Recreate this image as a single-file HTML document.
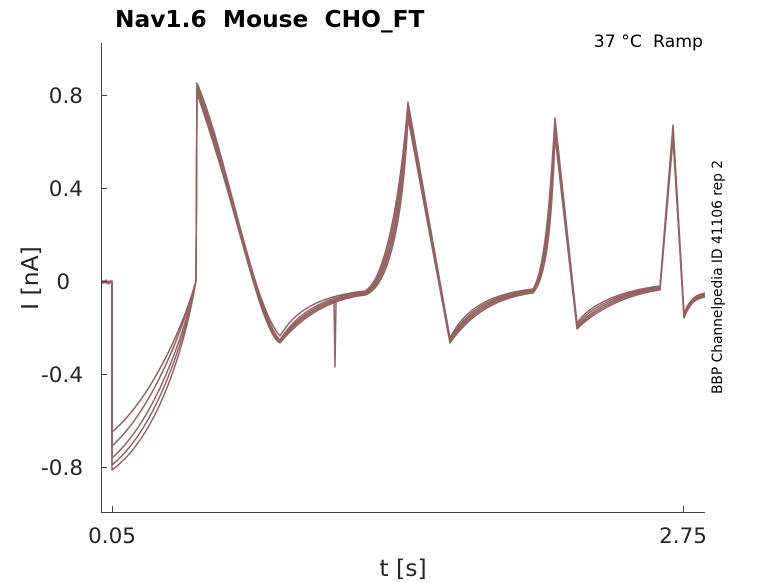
<!DOCTYPE html>
<html><head><meta charset="utf-8"><style>
body{margin:0;background:#fff;}
svg{display:block;font-family:"DejaVu Sans","Liberation Sans",sans-serif;}
</style></head><body>
<svg width="778" height="583" viewBox="0 0 778 583" xmlns="http://www.w3.org/2000/svg">
<rect width="778" height="583" fill="#fff"/>
<g fill="none" stroke="#946262" stroke-width="1.5" stroke-linejoin="round">
<path d="M102,281 L104,283 L106,280 L108,284 L111,282 L112,281 L112,432 C150,400 182,330 196,281 L196,276 L197,83 C226,150 252,305 280,336 C295,310 320,296 365,291 C385,280 400,200 408,102 L450,338 C465,308 490,294 533,289 C545,270 550,200 555,118 L577,323 C590,304 620,291 660,286 L673,125 L684,313 C690,299 695,295 705,293"/>
<path d="M102,282 L112,281 L112,446 C152,410 183,330 196,281 L197,86 C230,170 257,318 280,340 C296,314 322,297 365,292 C386,282 401,205 408,105 L450,340 C466,310 491,295 533,290 C545,272 550,205 555,122 L577,325 C591,306 621,292 660,287 L673,128 L684,315 C690,300 695,296 705,294"/>
<path d="M102,281 L112,282 L112,458 C155,420 184,335 196,281 L197,89 C234,190 258,325 280,341 C297,316 323,298 365,293 C387,284 402,210 408,110 L450,341 C467,312 492,296 533,291 C546,274 551,210 555,128 L577,327 C592,308 622,293 660,288 L673,132 L684,316 C690,301 695,297 705,295"/>
<path d="M102,283 L112,282 L112,465 C157,428 185,338 196,281 L197,91 C238,210 259,330 280,342 C298,318 324,299 365,294 C388,286 402,215 408,114 L450,342 C468,314 493,297 533,292 C546,276 551,215 555,132 L577,328 C593,310 623,294 660,289 L673,135 L684,317 C690,302 695,298 705,296"/>
<path d="M102,281 L112,283 L112,470 C160,435 186,340 196,281 L197,93 C242,225 262,335 280,343 C299,320 325,300 365,295 C389,288 403,220 408,118 L450,343 C469,316 494,298 533,293 C547,278 552,220 555,136 L577,329 C594,312 624,295 660,290 L673,138 L684,318 C690,303 695,299 705,297"/>
<path d="M334,300 L335,367 L336,302"/>
</g>
<g stroke="#444" stroke-width="1" fill="none">
<path d="M101.5,43 V512.5 H705"/>
<path d="M101,95.5 h6 M101,188.5 h6 M101,281.5 h6 M101,374.5 h6 M101,467.5 h6"/>
<path d="M112.5,512 v-6 M683.5,512 v-6"/>
</g>
<g fill="#262626" font-size="21.5" text-anchor="end">
<text x="83" y="103">0.8</text>
<text x="83" y="196">0.4</text>
<text x="70" y="289">0</text>
<text x="83" y="382">-0.4</text>
<text x="83" y="475">-0.8</text>
</g>
<g fill="#262626" font-size="21.5" text-anchor="middle">
<text x="112" y="543">0.05</text>
<text x="683" y="543">2.75</text>
<text x="403" y="576" font-size="23.5">t [s]</text>
</g>
<text transform="translate(38,278) rotate(-90)" text-anchor="middle" font-size="23.5" fill="#262626">I [nA]</text>
<text x="115" y="27" font-size="23.3" font-weight="bold" fill="#000" xml:space="preserve">Nav1.6  Mouse  CHO_FT</text>
<text x="703" y="47" font-size="17.3" text-anchor="end" fill="#000" xml:space="preserve">37 °C  Ramp</text>
<text transform="translate(722,277) rotate(-90)" text-anchor="middle" font-size="13.8" fill="#000">BBP Channelpedia ID 41106 rep 2</text>
</svg>
</body></html>
